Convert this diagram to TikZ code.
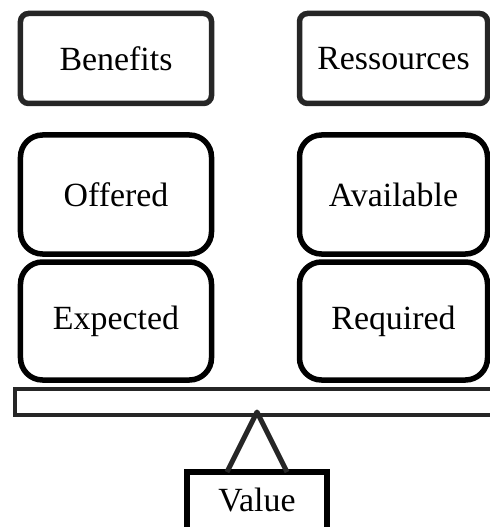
\documentclass[tikz,border=0pt]{standalone}
\usepackage{fontspec}
\setmainfont{Liberation Serif}
\begin{document}
\begin{tikzpicture}[x=1bp,y=-1bp,
  every node/.style={font=\fontsize{34}{38}\selectfont, inner sep=0pt, outer sep=0pt},
  topbox/.style={draw=black!85, line width=5.5bp, rounded corners=8bp, minimum width=191bp, minimum height=90bp},
  stackbox/.style={draw=black, line width=5.5bp, rounded corners=22bp, minimum width=191bp, minimum height=119bp},
  beambox/.style={draw=black!85, line width=3.5bp, minimum height=26bp, minimum width=520bp, anchor=west},
  valbox/.style={draw=black, line width=6bp, minimum width=140bp, minimum height=70bp, anchor=north, text depth=14bp},
  leg/.style={draw=black!85, line width=5bp, line join=round}
]
\useasboundingbox (0,0) rectangle (490,527);
\clip (0,0) rectangle (490,527);
\node[topbox] (benefits) at (116,58.5) {Benefits};
\node[topbox, minimum width=188bp] (ress) at (393.5,58.5) {Ressources};
\node[stackbox] (offered) at (116,194.5) {Offered};
\node[stackbox, minimum height=118bp] (expected) at (116,321) {Expected};
\node[stackbox, minimum width=188bp] (available) at (393.5,194.5) {Available};
\node[stackbox, minimum width=188bp, minimum height=118bp] (required) at (393.5,321) {Required};
\node[beambox] (beam) at (15,402) {};
\node[valbox] (value) at (257,472) {Value};
\coordinate (apex) at ([yshift=3bp]value.north |- beam.south);
\draw[leg] ([xshift=-30bp]value.north) -- (apex) -- ([xshift=30bp]value.north);
\end{tikzpicture}
\end{document}
